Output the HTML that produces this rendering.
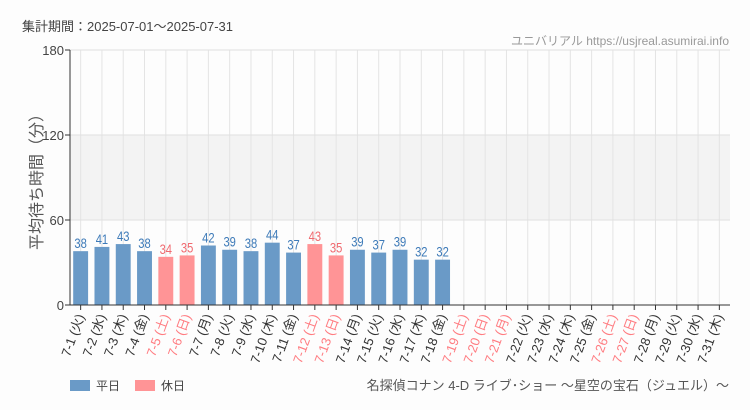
<!DOCTYPE html>
<html><head><meta charset="utf-8"><style>
body{margin:0;background:#fdfdfd;}
svg{display:block;font-family:"Liberation Sans","Noto Sans CJK JP",sans-serif;}
</style></head><body>
<svg id="c" width="750" height="410">
<text x="22" y="31" font-size="13" fill="#444">集計期間：2025-07-01～2025-07-31</text>
<text x="729" y="45" font-size="12" fill="#999" text-anchor="end">ユニバリアル  https://usjreal.asumirai.info</text>
<text transform="translate(42,178) rotate(-90)" font-size="16" fill="#555" text-anchor="middle">平均待ち時間（分）</text>
<g id="plot"></g>
<rect x="70" y="380" width="20" height="11" fill="#6a9ac7"/>
<text x="96" y="390" font-size="12" fill="#444">平日</text>
<rect x="135" y="380" width="20" height="11" fill="#ff9496"/>
<text x="161" y="390" font-size="12" fill="#444">休日</text>
<text x="729" y="390" font-size="13" fill="#555" text-anchor="end">名探偵コナン 4-D ライブ･ショー ～星空の宝石（ジュエル）～</text>
</svg>
<script>
const days=["7-1 (火)","7-2 (水)","7-3 (木)","7-4 (金)","7-5 (土)","7-6 (日)","7-7 (月)","7-8 (火)","7-9 (水)","7-10 (木)","7-11 (金)","7-12 (土)","7-13 (日)","7-14 (月)","7-15 (火)","7-16 (水)","7-17 (木)","7-18 (金)","7-19 (土)","7-20 (日)","7-21 (月)","7-22 (火)","7-23 (水)","7-24 (木)","7-25 (金)","7-26 (土)","7-27 (日)","7-28 (月)","7-29 (火)","7-30 (水)","7-31 (木)"];
const holiday=[0,0,0,0,1,1,0,0,0,0,0,1,1,0,0,0,0,0,1,1,1,0,0,0,0,1,1,0,0,0,0];
const values=[38,41,43,38,34,35,42,39,38,44,37,43,35,39,37,39,32,32,null,null,null,null,null,null,null,null,null,null,null,null,null];
const yTicks=[0,60,120,180];
const NS="http://www.w3.org/2000/svg";
const g=document.getElementById('plot');
const X0=70,X1=730,Y0=305,Y1=50,YMAX=180;
const step=(X1-X0)/days.length;
const xc=i=>X0+step*(i+0.5);
const y=v=>Y0-(v/YMAX)*(Y0-Y1);
function el(t,a){const e=document.createElementNS(NS,t);for(const k in a)e.setAttribute(k,a[k]);g.appendChild(e);return e;}
const band=el('rect',{x:X0,y:y(120),width:X1-X0,height:y(60)-y(120),fill:'#f3f3f3'});


days.forEach((d,i)=>{const l=el('line',{x1:xc(i),x2:xc(i),y1:Y1,y2:Y0,stroke:'#e4e4e4'});

});
yTicks.forEach(t=>{const l=el('line',{x1:X0,x2:X1,y1:y(t),y2:y(t),stroke:'#e0e0e0'});


const tk=el('line',{x1:X0-5,x2:X0,y1:y(t),y2:y(t),stroke:'#333'});


const tx=el('text',{x:X0-6,y:y(t)+5,'font-size':13,fill:'#444','text-anchor':'end'});tx.textContent=t;

});
const bw=step*0.7;
values.forEach((v,i)=>{if(v==null)return;const col=holiday[i]?'#ff9496':'#6a9ac7';
const r=el('rect',{x:xc(i)-bw/2,y:y(v),width:bw,height:Y0-y(v),fill:col});


const t=el('text',{x:xc(i),y:y(v)-3,'font-size':14,fill:holiday[i]?'#f06a70':'#3d7ab8','text-anchor':'middle',transform:`translate(${xc(i)},0) scale(0.8,1) translate(${-xc(i)},0)`});t.textContent=v;

});
const ax=el('line',{x1:X0,x2:X1,y1:Y0,y2:Y0,stroke:'#333'});


const ay=el('line',{x1:X0,x2:X0,y1:Y1,y2:Y0,stroke:'#333'});


days.forEach((d,i)=>{const tk=el('line',{x1:xc(i),x2:xc(i),y1:Y0,y2:Y0+5,stroke:'#333'});


const t=el('text',{x:0,y:0,'font-size':13,fill:holiday[i]?'#ff7b80':'#333','text-anchor':'end',transform:`translate(${xc(i)+4},${Y0+11}) rotate(-70)`});t.textContent=d;

});
</script>
</body></html>
